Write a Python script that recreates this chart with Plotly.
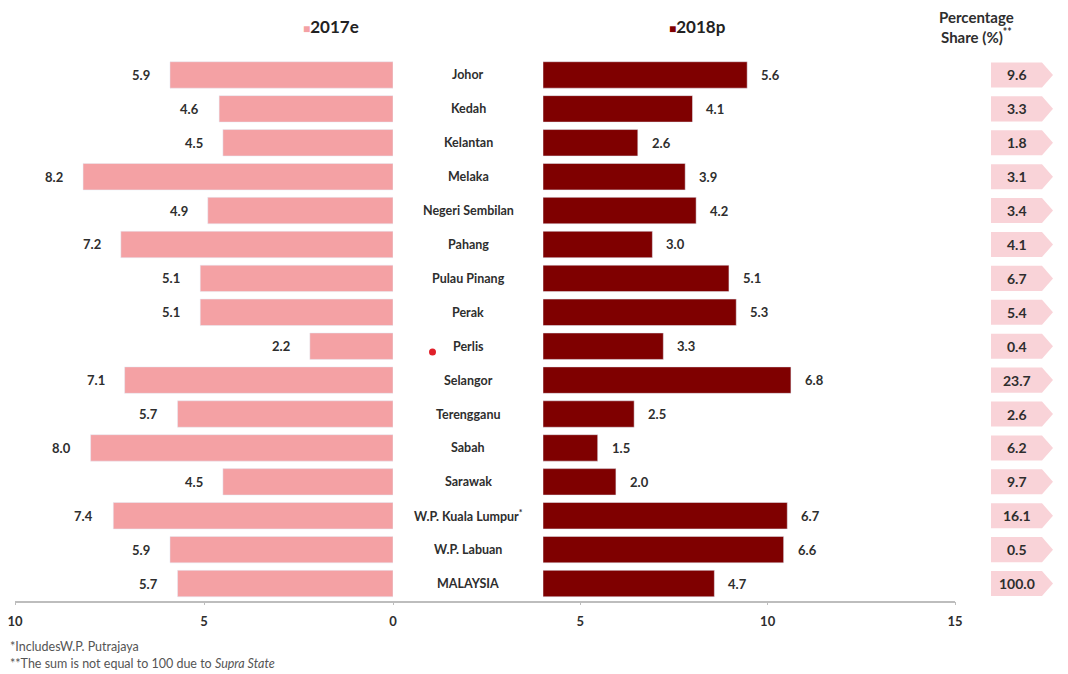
import plotly.graph_objects as go

W, H = 1068, 674

states = ["Johor", "Kedah", "Kelantan", "Melaka", "Negeri Sembilan", "Pahang",
          "Pulau Pinang", "Perak", "Perlis", "Selangor", "Terengganu", "Sabah",
          "Sarawak", "W.P. Kuala Lumpur<sup>*</sup>", "W.P. Labuan", "MALAYSIA"]
g2017 = [5.9, 4.6, 4.5, 8.2, 4.9, 7.2, 5.1, 5.1, 2.2, 7.1, 5.7, 8.0, 4.5, 7.4, 5.9, 5.7]
g2018 = [5.6, 4.1, 2.6, 3.9, 4.2, 3.0, 5.1, 5.3, 3.3, 6.8, 2.5, 1.5, 2.0, 6.7, 6.6, 4.7]
share = [9.6, 3.3, 1.8, 3.1, 3.4, 4.1, 6.7, 5.4, 0.4, 23.7, 2.6, 6.2, 9.7, 16.1, 0.5, 100.0]
left_ticks = [10, 5, 0]
right_ticks = [5, 10, 15]

C17 = "#f4a1a4"
C18 = "#7f0000"
BOX = "#f9d3d8"
TXT = "#2e2e2e"
FONT = "Lato"

def px(x):
    return x / W

def py(y):
    return 1 - y / H

idx = list(range(len(states)))

fig = go.Figure()
fig.add_trace(go.Bar(x=g2017, y=idx, orientation="h", marker_color=C17, width=0.78,
                     xaxis="x", yaxis="y", showlegend=False, hoverinfo="skip"))
fig.add_trace(go.Bar(x=g2018, y=idx, orientation="h", marker_color=C18, width=0.78,
                     xaxis="x2", yaxis="y", showlegend=False, hoverinfo="skip"))
fig.add_trace(go.Scatter(x=[None], y=[None], xaxis="x3", yaxis="y", showlegend=False))

ann = []
bold = dict(family=FONT, size=13, color=TXT, weight="bold")
for i in idx:
    ann.append(dict(x=g2017[i], y=i, xref="x", yref="y", text=f"{g2017[i]:.1f}",
                    xanchor="right", yanchor="middle", xshift=-18, showarrow=False, font=bold))
    ann.append(dict(x=g2018[i], y=i, xref="x2", yref="y", text=f"{g2018[i]:.1f}",
                    xanchor="left", yanchor="middle", xshift=12, showarrow=False, font=bold))
    ann.append(dict(x=px(468), y=i, xref="paper", yref="y", text=states[i],
                    xanchor="center", yanchor="middle", showarrow=False,
                    font=dict(family=FONT, size=12.5, color=TXT, weight="bold")))
    ann.append(dict(x=px(1017), y=i, xref="paper", yref="y", text=f"{share[i]:.1f}",
                    xanchor="center", yanchor="middle", showarrow=False,
                    font=dict(family=FONT, size=14, color=TXT, weight="bold")))

# header and legend
ann.append(dict(x=px(1016), y=py(6), xref="paper", yref="paper", yanchor="top",
                text="Percentage<br>Share (%)<sup>**</sup>", showarrow=False, align="center",
                font=dict(family=FONT, size=15, color=TXT, weight="bold")))
ann.append(dict(x=px(301), y=py(26), xref="paper", yref="paper", xanchor="left",
                yanchor="middle",
                text=f"<span style='color:{C17};font-size:12px'>■</span>2017e", showarrow=False,
                font=dict(family=FONT, size=17, color="#222", weight="bold")))
ann.append(dict(x=px(667), y=py(26), xref="paper", yref="paper", xanchor="left",
                yanchor="middle",
                text=f"<span style='color:{C18};font-size:12px'>■</span>2018p", showarrow=False,
                font=dict(family=FONT, size=17, color="#222", weight="bold")))
# footnotes
ann.append(dict(x=px(8), y=py(646), xref="paper", yref="paper", xanchor="left",
                yanchor="middle",
                text="*IncludesW.P. Putrajaya", showarrow=False,
                font=dict(family=FONT, size=12.5, color="#555")))
ann.append(dict(x=px(8), y=py(663), xref="paper", yref="paper", xanchor="left",
                yanchor="middle",
                text="**The sum is not equal to 100 due to <i>Supra State</i>", showarrow=False,
                font=dict(family=FONT, size=12.5, color="#555")))

shapes = []
hh = 0.37
for i in idx:
    x0, x1, x2 = px(991), px(1042), px(1053)
    shapes.append(dict(type="path", xref="paper", yref="y",
                       path=f"M {x0},{i-hh} L {x1},{i-hh} L {x2},{i} L {x1},{i+hh} L {x0},{i+hh} Z",
                       fillcolor=BOX, line=dict(width=0), layer="below"))
# stray red dot from the source image
shapes.append(dict(type="circle", xref="paper", yref="paper",
                   x0=px(429), x1=px(436), y0=py(355.5), y1=py(348.5),
                   fillcolor="#e0202a", line=dict(width=0)))

axis_common = dict(showgrid=False, zeroline=False, showline=True, linecolor="#bdbdbd",
                   linewidth=1.5, ticks="outside", ticklen=3, tickcolor="#bdbdbd",
                   ticklabelstandoff=5,
                   tickfont=dict(family=FONT, size=13, color=TXT, weight="bold"),
                   fixedrange=True, automargin=False)

fig.update_layout(
    width=W, height=H,
    margin=dict(l=0, r=0, t=0, b=0, pad=0, autoexpand=False),
    paper_bgcolor="white", plot_bgcolor="rgba(0,0,0,0)",
    bargap=0.2,
    xaxis=dict(domain=[px(15), px(393)], range=[10, 0], anchor="y",
               tickvals=left_ticks, **axis_common),
    xaxis3=dict(domain=[px(393), px(955)], range=[0, 15], anchor="y",
                tickvals=right_ticks, **axis_common),
    xaxis2=dict(domain=[px(543), px(955)], range=[0, 11.3], anchor="y", visible=False,
                fixedrange=True),
    yaxis=dict(domain=[py(600.5), py(58)], range=[15.5, -0.5], visible=False,
               fixedrange=True, automargin=False),
    annotations=ann,
    shapes=shapes,
)

fig.write_html("out.html")
